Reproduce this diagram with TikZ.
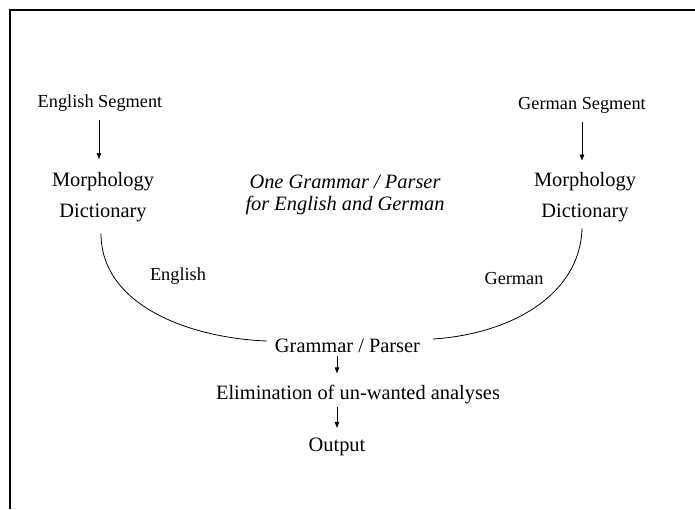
\documentclass[tikz,border=0pt]{standalone}
\usepackage{fontspec}
\setmainfont{Liberation Serif}
\usetikzlibrary{arrows.meta}
\begin{document}
\begin{tikzpicture}[x=1pt,y=-1pt,
  lbl/.style={inner sep=2pt,font=\fontsize{18.3}{22}\selectfont},
  big/.style={inner sep=2pt,font=\fontsize{20.4}{24}\selectfont},
  stack/.style={inner sep=2pt,align=center,font=\fontsize{20.4}{31}\selectfont},
  arr/.style={-{Triangle[length=6pt,width=4.5pt]},line width=0.7pt},
  link/.style={line width=0.8pt}]
\useasboundingbox (0,0) rectangle (695,509);
\draw[line width=2pt] (10,509) -- (10,10) -- (695,10);
% nodes
\node[lbl] (engseg) at (100,103) {English Segment};
\node[stack] (morphL) at (103,197) {Morphology\\Dictionary};
\node[inner sep=2pt,align=center,font=\fontsize{20.4}{21.5}\selectfont\itshape] (one) at (345,195) {One Grammar / Parser\\for English and German};
\node[lbl] (gerseg) at (582,105) {German Segment};
\node[stack] (morphR) at (585,197) {Morphology\\Dictionary};
\node[lbl] (englbl) at (178,276) {English};
\node[lbl] (gerlbl) at (514,279) {German};
\node[big] (gram) at (347.5,346) {Grammar / Parser};
\node[big] (elim) at (358,395) {Elimination of un-wanted analyses};
\node[big] (out) at (337,447) {Output};
% arrows
\draw[arr,shorten <=6pt,shorten >=11pt] ([xshift=-1pt]engseg.south) -- ([xshift=-1pt]engseg.south |- morphL.north);
\draw[arr,shorten <=7pt,shorten >=9.5pt] (gerseg.south) -- (gerseg.south |- morphR.north);
\draw[arr,shorten <=1pt,shorten >=10pt] (gram.south -| out) -- (elim.north -| out);
\draw[arr,shorten >=8pt] (elim.south -| out) -- (out.north);
% curves
\draw[link] ([xshift=-2pt,yshift=-9.5pt]morphL.south) .. controls +(0,72) and +(-77,-3) .. ([xshift=-6pt,yshift=5pt]gram.west);
\draw[link] ([xshift=-3pt,yshift=-4.5pt]morphR.south) .. controls +(-2,67) and +(77,-5) .. ([xshift=11pt,yshift=7pt]gram.east);
\end{tikzpicture}
\end{document}
